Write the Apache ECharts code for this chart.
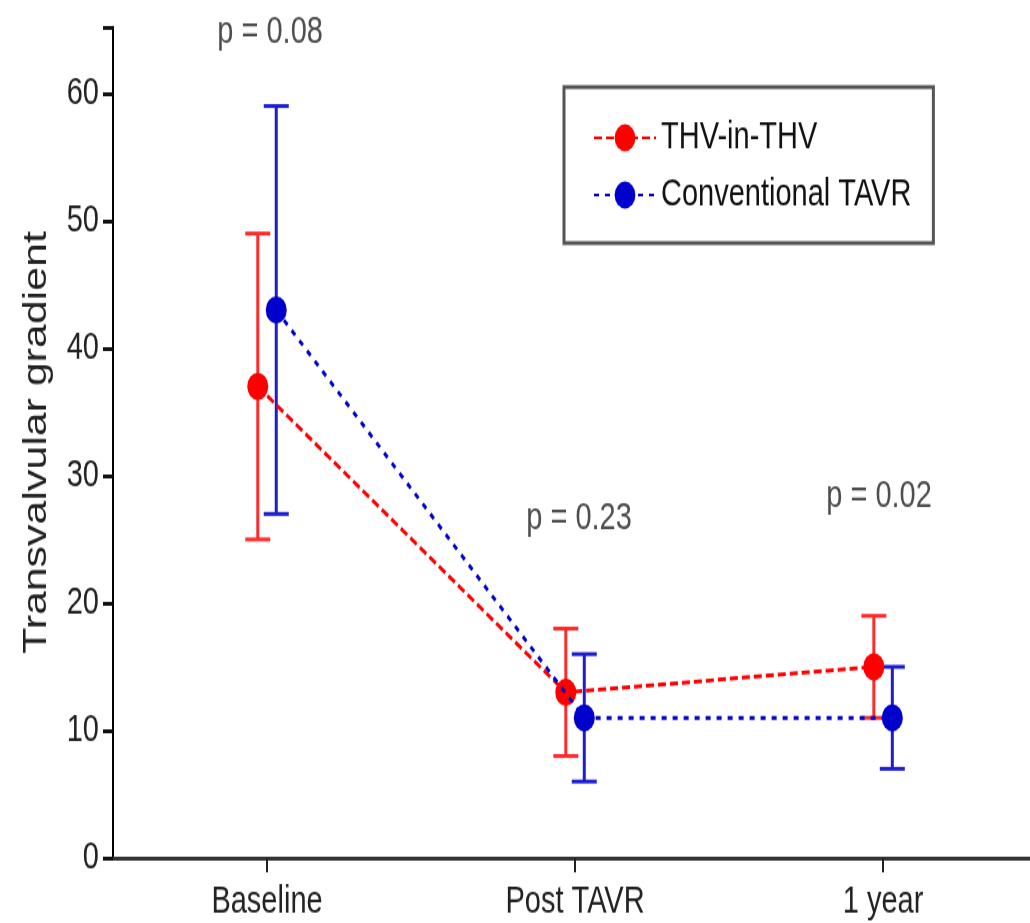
<!DOCTYPE html>
<html>
<head>
<meta charset="utf-8">
<title>Transvalvular gradient</title>
<script src="https://cdn.jsdelivr.net/npm/echarts@6/dist/echarts.min.js"></script>
<style>
  html, body { margin: 0; background: #fff; }
  .page { width: 1030px; height: 923px; overflow: hidden; }
  /* the original figure is stretched vertically, so draw flat and stretch */
  #chart {
    width: 1030px;
    height: 710px;
    transform: scaleY(1.3);
    transform-origin: 0 0;
  }
</style>
</head>
<body>
<div class="page"><div id="chart"></div></div>
<script>
var categories = ['Baseline', 'Post TAVR', '1 year']
var catPos = [0, 1, 2]
var yTicks = [0, 10, 20, 30, 40, 50, 60]

// mean, lower and upper whisker per time point
var thvMean = [37, 13, 15]
var thvLow = [25, 8, 11]
var thvHigh = [49, 18, 19]

var convMean = [43, 11, 11]
var convLow = [27, 6, 7]
var convHigh = [59, 16, 15]

var pLabels = ['p = 0.08', 'p = 0.23', 'p = 0.02']
var pY = [64.8, 26.6, 28.4]
var pX = [0.01, 1.013, 1.987]

var shift = 0.03
var red = '#ff0000'
var blue = '#0000cc'
var font = 'Liberation Sans, Arial, sans-serif'

function points (means, dx) {
  return means.map(function (v, i) { return [catPos[i] + dx, v] })
}
function whiskers (low, high, dx) {
  return low.map(function (v, i) { return [catPos[i] + dx, v, high[i]] })
}
function errorBar (color) {
  return function (params, api) {
    var lo = api.coord([api.value(0), api.value(1)])
    var hi = api.coord([api.value(0), api.value(2)])
    var half = 12.5
    var style = { stroke: color, lineWidth: 3 }
    return {
      type: 'group',
      children: [
        { type: 'line', shape: { x1: lo[0], y1: lo[1], x2: hi[0], y2: hi[1] }, style: style },
        { type: 'line', shape: { x1: hi[0] - half, y1: hi[1], x2: hi[0] + half, y2: hi[1] }, style: style },
        { type: 'line', shape: { x1: lo[0] - half, y1: lo[1], x2: lo[0] + half, y2: lo[1] }, style: style }
      ]
    }
  }
}

var myChart = echarts.init(document.getElementById('chart'))

var option = {
  animation: false,
  backgroundColor: '#fff',
  textStyle: { fontFamily: font },
  grid: { left: 113, top: 20.8, right: 0, bottom: 50 },
  legend: {
    orient: 'vertical',
    left: 564,
    top: 67,
    data: ['THV-in-THV', 'Conventional TAVR'],
    itemWidth: 62,
    itemHeight: 26,
    itemGap: 14,
    itemTextGap: 7,
    padding: [24, 22, 22, 29],
    borderColor: '#555',
    borderWidth: 3,
    textStyle: { fontSize: 29, color: '#111', fontFamily: font, lineHeight: 30 }
  },
  xAxis: {
    type: 'value',
    min: -0.5,
    max: 2.477,
    splitLine: { show: false },
    axisLine: { onZero: false, lineStyle: { color: '#333', width: 3 } },
    axisTick: { customValues: catPos, length: 11, lineStyle: { color: '#222', width: 2 } },
    axisLabel: {
      customValues: catPos,
      fontSize: 29,
      color: '#222',
      margin: 19,
      fontFamily: font,
      formatter: function (v) { return categories[Math.round(v)] }
    }
  },
  yAxis: {
    type: 'value',
    min: 0,
    max: 65.2,
    interval: 10,
    name: 'Transvalvular gradient',
    nameLocation: 'middle',
    nameRotate: 90,
    nameGap: 60,
    nameTextStyle: { fontSize: 33, color: '#222', fontFamily: font },
    splitLine: { show: false },
    axisLine: { show: true, onZero: false, lineStyle: { color: '#000', width: 2 } },
    axisTick: { show: true, length: 10, lineStyle: { color: '#111', width: 3 } },
    axisLabel: {
      fontSize: 29,
      color: '#222',
      margin: 14,
      fontFamily: font,
      formatter: function (v) { return yTicks.indexOf(v) >= 0 ? String(v) : '' }
    }
  },
  series: [
    {
      name: 'THV-in-THV',
      type: 'line',
      data: points(thvMean, -shift),
      symbol: 'circle',
      symbolSize: 21,
      itemStyle: { color: red },
      lineStyle: { color: red, width: 3, type: [8, 4] },
      z: 3
    },
    {
      name: 'THV-in-THV',
      type: 'custom',
      data: whiskers(thvLow, thvHigh, -shift),
      renderItem: errorBar('#ff2a2a'),
      z: 2
    },
    {
      name: 'Conventional TAVR',
      type: 'line',
      data: points(convMean, shift),
      symbol: 'circle',
      symbolSize: 21,
      itemStyle: { color: blue },
      lineStyle: { color: blue, width: 3, type: [5, 6] },
      z: 4
    },
    {
      name: 'Conventional TAVR',
      type: 'custom',
      data: whiskers(convLow, convHigh, shift),
      renderItem: errorBar('#1c1cd0'),
      z: 2
    },
    {
      type: 'scatter',
      symbolSize: 0,
      silent: true,
      data: pLabels.map(function (t, i) { return { value: [pX[i], pY[i]], name: t } }),
      label: {
        show: true,
        position: 'inside',
        formatter: '{b}',
        fontSize: 29,
        color: '#222',
        fontFamily: font
      }
    }
  ]
}

myChart.setOption(option)
</script>
</body>
</html>
